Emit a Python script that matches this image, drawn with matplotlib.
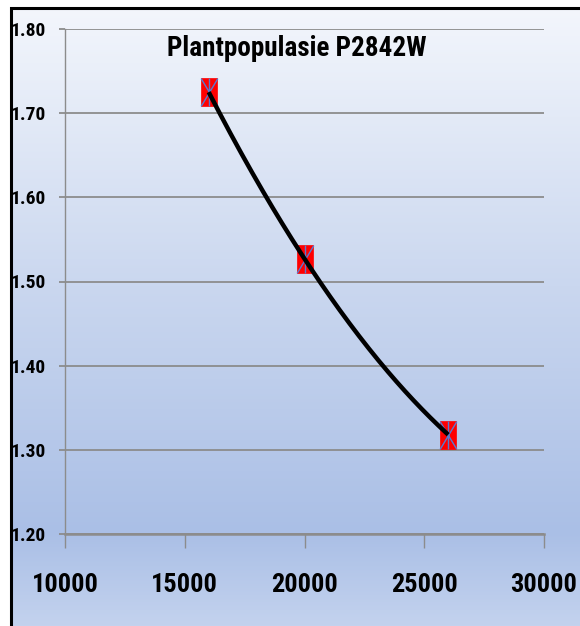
import numpy as np
import matplotlib.pyplot as plt
from matplotlib.colors import LinearSegmentedColormap
from matplotlib.path import Path
from matplotlib.patches import Rectangle

# data
populasie = [16000, 20000, 26000]
opbrengs = [1.725, 1.527, 1.318]
x_ticks = [10000, 15000, 20000, 25000, 30000]
y_ticks = [1.20, 1.30, 1.40, 1.50, 1.60, 1.70, 1.80]
title = "Plantpopulasie P2842W"

plt.rcParams['font.family'] = ['Roboto Condensed', 'DejaVu Sans']
plt.rcParams['font.weight'] = 'bold'

fig = plt.figure(figsize=(5.8, 6.26), dpi=100)
fig.patch.set_facecolor('white')

# gradient background behind everything
bg = fig.add_axes([11 / 580, 0, 1 - 11 / 580, 618 / 626], zorder=0)
cmap = LinearSegmentedColormap.from_list(
    'bg', [(0, '#c3d2ee'), (0.15, '#aabfe6'), (0.55, '#cad7ef'), (1, '#f3f6fc')])
grad = np.linspace(0, 1, 256).reshape(-1, 1)
bg.imshow(grad, aspect='auto', cmap=cmap, origin='lower', extent=[0, 1, 0, 1])
bg.set_axis_off()

# border (top and left visible)
fig.add_artist(Rectangle((11 / 580, -0.01), 1.2, 618 / 626 + 0.01, transform=fig.transFigure,
                         fill=False, edgecolor='black', linewidth=2.2, zorder=5))

ax = fig.add_axes([65 / 580, 92 / 626, 479 / 580, 505 / 626], zorder=1)
ax.patch.set_alpha(0)

ax.set_xlim(10000, 30000)
ax.set_ylim(1.20, 1.80)
ax.set_xticks(x_ticks)
ax.set_yticks(y_ticks)
ax.set_xticklabels([str(v) for v in x_ticks], fontsize=19, fontweight='bold')
ax.set_yticklabels(['%.2f' % v for v in y_ticks], fontsize=14, fontweight='bold')

ax.yaxis.grid(True, color='#8c8c8c', linewidth=1.3)
ax.set_axisbelow(True)
for s in ['top', 'right']:
    ax.spines[s].set_visible(False)
ax.spines['left'].set_color('#8c8c8c')
ax.spines['left'].set_linewidth(1.0)
ax.spines['bottom'].set_color('#8c8c8c')
ax.spines['bottom'].set_linewidth(1.8)
ax.tick_params(axis='x', direction='out', length=10, width=1, color='#8c8c8c', pad=18)
ax.tick_params(axis='y', direction='out', length=4, width=1.3, color='#8c8c8c', pad=10)

# quadratic trendline
coef = np.polyfit(populasie, opbrengs, 2)
xs = np.linspace(populasie[0], populasie[-1], 200)
ax.plot(xs, np.polyval(coef, xs), color='black', linewidth=3.2, zorder=3, solid_capstyle='butt')

# markers: red rectangle with blue star lines
rect = Path([(-0.3, -0.5), (0.3, -0.5), (0.3, 0.5), (-0.3, 0.5), (-0.3, -0.5)],
            [Path.MOVETO, Path.LINETO, Path.LINETO, Path.LINETO, Path.CLOSEPOLY])
star = Path([(-0.3, -0.5), (0.3, 0.5), (-0.3, 0.5), (0.3, -0.5), (0, -0.5), (0, 0.5)],
            [Path.MOVETO, Path.LINETO, Path.MOVETO, Path.LINETO, Path.MOVETO, Path.LINETO])
ax.plot(populasie, opbrengs, linestyle='none', marker=rect, markersize=20,
        markerfacecolor='#ff0000', markeredgecolor='#ff0000', markeredgewidth=0.5, zorder=2)
ax.plot(populasie, opbrengs, linestyle='none', marker=star, markersize=20,
        markerfacecolor='none', markeredgecolor='#5a7ad0', markeredgewidth=1.0, zorder=2.5)

ax.text(0.484, 0.962, title, transform=ax.transAxes, ha='center', va='center',
        fontsize=19.5, fontweight='bold')

fig.savefig('out.png', dpi=100)
